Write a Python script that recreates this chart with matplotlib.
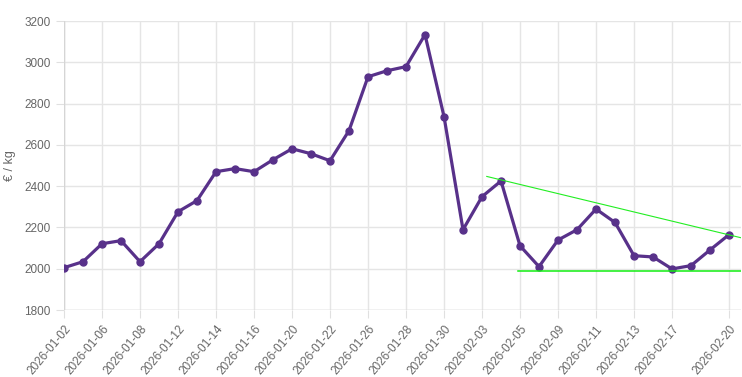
import matplotlib.pyplot as plt

plt.rcParams['font.family'] = ['Liberation Sans', 'DejaVu Sans']

# business days, Jan 2 - Feb 20 2026
dates = ["2026-01-02", "2026-01-05", "2026-01-06", "2026-01-07", "2026-01-08", "2026-01-09",
         "2026-01-12", "2026-01-13", "2026-01-14", "2026-01-15", "2026-01-16", "2026-01-19",
         "2026-01-20", "2026-01-21", "2026-01-22", "2026-01-23", "2026-01-26", "2026-01-27",
         "2026-01-28", "2026-01-29", "2026-01-30", "2026-02-02", "2026-02-03", "2026-02-04",
         "2026-02-05", "2026-02-06", "2026-02-09", "2026-02-10", "2026-02-11", "2026-02-12",
         "2026-02-13", "2026-02-16", "2026-02-17", "2026-02-18", "2026-02-19", "2026-02-20"]
prices = [2005, 2034, 2121, 2136, 2034, 2121, 2276, 2330, 2470, 2485, 2470, 2528,
          2581, 2557, 2523, 2669, 2930, 2959, 2979, 3134, 2737, 2189, 2349, 2425,
          2111, 2010, 2139, 2189, 2289, 2224, 2063, 2057, 1999, 2015, 2091, 2165]

# trend lines (category index, value)
resist_x = [22.25, 35.63]
resist_y = [2447, 2150]
support_x = [23.9, 35.63]
support_y = [1990, 1990]

# labels shown every other day, plus the last one
shown = list(range(0, 34, 2)) + [35]

fig = plt.figure(figsize=(7.42, 3.77), dpi=100)
ax = fig.add_axes([64 / 742, 1 - 310 / 377, 677 / 742, 289 / 377])

x = list(range(len(prices)))
ax.plot(x, prices, color='#58318a', lw=2.3, marker='o', ms=5, zorder=3)
ax.plot(resist_x, resist_y, color='#22ee22', lw=0.8, zorder=4)
ax.plot(support_x, support_y, color='#11ee11', lw=1.1, zorder=4)

ax.set_xlim(0, 35.63)
ax.set_ylim(1800, 3200)
ax.set_yticks(range(1800, 3201, 200))
ax.set_xticks(shown)
ax.set_xticklabels([dates[i] for i in shown], rotation=50, ha='right',
                   rotation_mode='anchor')
ax.grid(True, color='#e5e5e5', lw=1)
ax.set_axisbelow(True)
for s in ax.spines.values():
    s.set_visible(False)
ax.axvline(0, color='#d5d5d5', lw=1, zorder=1)
ax.axhline(1800, color='#d5d5d5', lw=1, zorder=1)
ax.tick_params(axis='both', colors='#e0e0e0', labelcolor='#666666', labelsize=8.5, length=6)
ax.set_ylabel('€ / kg', color='#666666', fontsize=9, labelpad=6)

fig.savefig('out.png', dpi=100)
